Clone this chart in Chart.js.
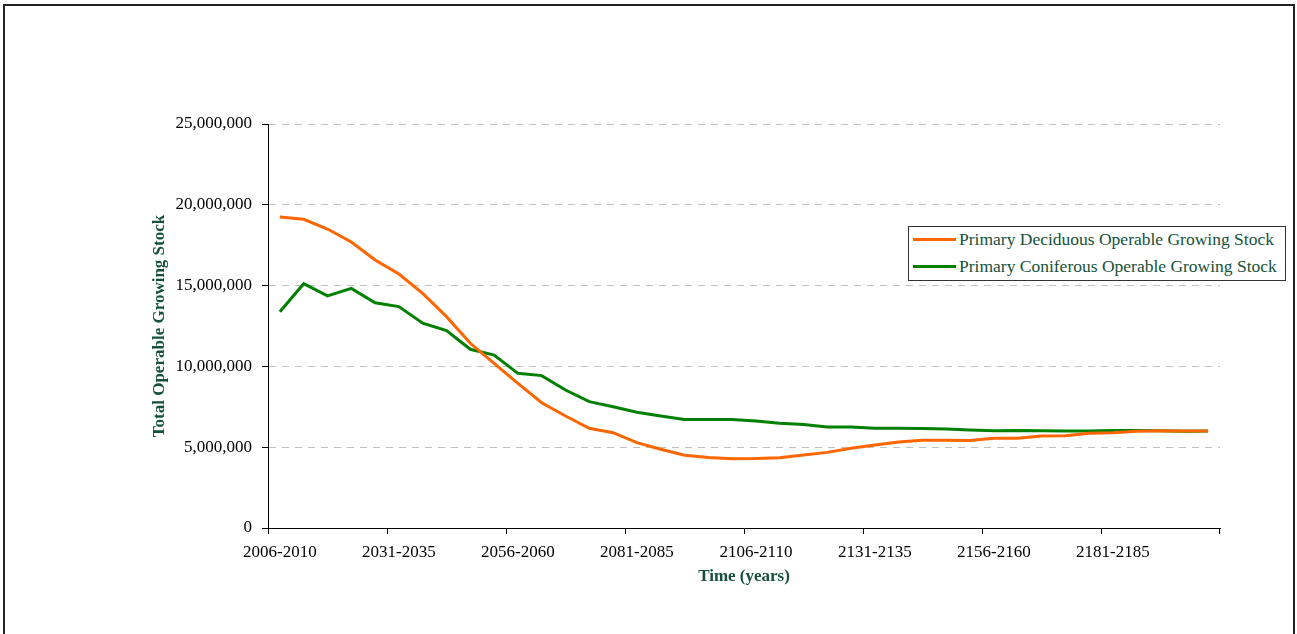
<!DOCTYPE html>
<html>
<head>
<meta charset="utf-8">
<script src="https://cdn.jsdelivr.net/npm/chart.js@4"></script>
<style>
  body { margin: 0; background: #fff; }
  #frame { position: absolute; left: 3px; top: 4px; width: 1288px; height: 700px; border: 2px solid #222; }
  #wrap { position: absolute; left: 0; top: 0; width: 1297px; height: 634px; }
  #legend { position: absolute; left: 908px; top: 226px; width: 376px; height: 53px; border: 1px solid #333; background: #fff;
    font-family: "Liberation Serif", serif; font-size: 17.5px; color: #14513A; }
  .row { position: absolute; left: 4px; height: 20px; display: flex; align-items: center; white-space: nowrap; }
  .swatch { width: 43px; height: 3px; margin-right: 3px; }
</style>
</head>
<body>
<div id="frame"></div>
<div id="wrap"><canvas id="chart" width="1297" height="634"></canvas></div>
<div id="legend"></div>
<script>
// 5-year periods, 2006-2010 .. 2201-2205
const periods = [];
for (let y = 2006; y <= 2201; y += 5) periods.push(y + '-' + (y + 4));

// values in millions
const deciduous = [19.24, 19.1, 18.5, 17.7, 16.58, 15.72, 14.52, 13.08, 11.43, 10.19,
  8.95, 7.75, 6.93, 6.17, 5.9, 5.28, 4.87, 4.5, 4.37, 4.29,
  4.3, 4.35, 4.52, 4.68, 4.93, 5.14, 5.32, 5.43, 5.43, 5.41,
  5.55, 5.55, 5.69, 5.71, 5.86, 5.9, 5.98, 6.02, 6.0, 6.0];
const coniferous = [13.38, 15.12, 14.36, 14.83, 13.94, 13.7, 12.67, 12.21, 11.06, 10.7,
  9.57, 9.43, 8.54, 7.82, 7.5, 7.16, 6.93, 6.72, 6.72, 6.72,
  6.62, 6.48, 6.4, 6.25, 6.25, 6.17, 6.17, 6.15, 6.13, 6.06,
  6.02, 6.04, 6.02, 6.0, 6.0, 6.04, 6.04, 6.02, 5.98, 6.0];
const yTicks = [0, 5000000, 10000000, 15000000, 20000000, 25000000];

const seriesNames = ['Primary Deciduous Operable Growing Stock', 'Primary Coniferous Operable Growing Stock'];
const seriesColors = ['#FF6600', '#008000'];

const titleColor = '#14513A';
const serif = 'Liberation Serif';

const chart = new Chart(document.getElementById('chart'), {
  type: 'line',
  data: {
    labels: periods,
    datasets: [
      { label: seriesNames[0], data: deciduous.map(v => v * 1e6), borderColor: seriesColors[0], backgroundColor: seriesColors[0], borderWidth: 3, pointRadius: 0, tension: 0, fill: false },
      { label: seriesNames[1], data: coniferous.map(v => v * 1e6), borderColor: seriesColors[1], backgroundColor: seriesColors[1], borderWidth: 3, pointRadius: 0, tension: 0, fill: false },
    ],
  },
  options: {
    responsive: false,
    animation: false,
    layout: { padding: { top: 124, right: 77, left: 0, bottom: 0 } },
    plugins: { legend: { display: false }, tooltip: { enabled: false } },
    scales: {
      x: {
        offset: true,
        grid: {
          offset: true,
          drawOnChartArea: false,
          tickLength: 6,
          tickColor: ctx => (ctx.index === undefined || ctx.index % 5 === 0) ? '#000' : 'rgba(0,0,0,0)',
        },
        border: { color: '#000', width: 1 },
        ticks: {
          autoSkip: false,
          maxRotation: 0,
          padding: 8,
          color: '#000',
          font: { family: serif, size: 17 },
          callback: (val, i) => i % 5 === 0 ? periods[i] : '',
        },
        title: { display: true, text: 'Time (years)', color: titleColor, font: { family: serif, size: 17, weight: 'bold' }, padding: { top: 0, bottom: 47 } },
        afterFit: s => { s.height = 106; },
      },
      y: {
        min: 0,
        max: 25000000,
        afterBuildTicks: s => { s.ticks = yTicks.map(v => ({ value: v })); },
        grid: {
          color: ctx => ctx.tick && ctx.tick.value === 0 ? 'rgba(0,0,0,0)' : '#C0C0C0',
          tickLength: 6,
          tickColor: '#000',
          tickBorderDash: [],
        },
        border: { color: '#000', width: 1, dash: [7, 6] },
        ticks: {
          padding: 10,
          color: '#000',
          font: { family: serif, size: 17 },
          callback: v => v.toLocaleString('en-US'),
        },
        title: { display: true, text: 'Total Operable Growing Stock', color: titleColor, font: { family: serif, size: 17, weight: 'bold' }, padding: { top: 149, bottom: 0 } },
        afterFit: s => { s.width = 268; },
      },
    },
  },
});

// legend box
const legend = document.getElementById('legend');
seriesNames.forEach((name, i) => {
  const row = document.createElement('div');
  row.className = 'row';
  row.style.top = (2 + i * 27.5) + 'px';
  row.innerHTML = `<div class="swatch" style="background:${seriesColors[i]}"></div><span>${name}</span>`;
  legend.appendChild(row);
});
</script>
</body>
</html>
